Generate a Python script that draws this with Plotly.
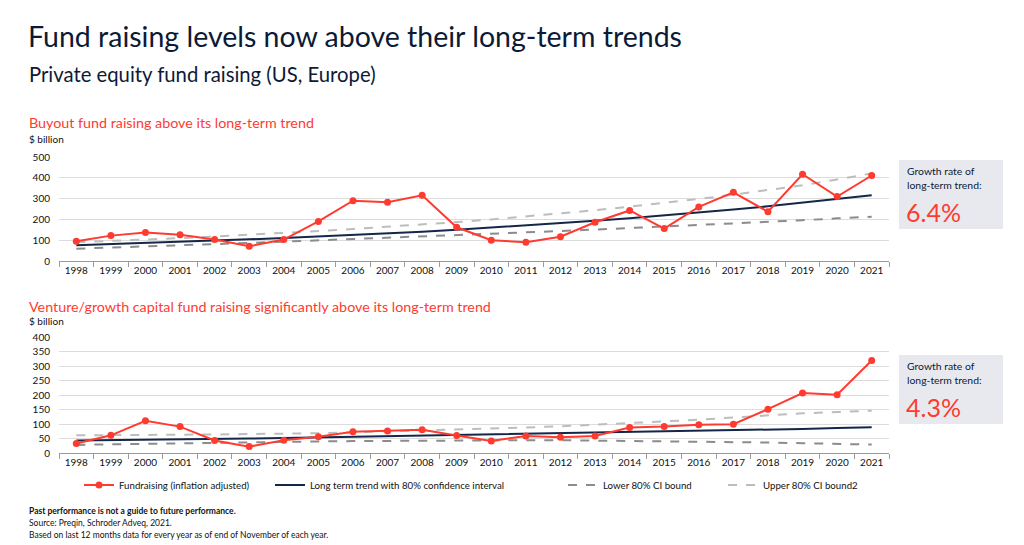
import plotly.graph_objects as go

years = [str(y) for y in range(1998, 2022)]

# Buyout fund raising ($ billion)
buyout = [95, 122, 137, 126, 103, 71, 103, 190, 290, 283, 316, 162, 100, 90, 117, 186,
          243, 156, 260, 330, 237, 417, 310, 411]
buyout_trend = [76, 81, 86, 92, 97, 104, 110, 117, 125, 133, 141, 150, 160, 170, 181, 193,
                205, 218, 232, 247, 263, 280, 298, 316]
buyout_lower = [59, 64, 70, 75, 81, 87, 93, 99, 105, 111, 117, 123, 130, 137, 144, 151,
                158, 165, 172, 180, 188, 196, 205, 213]
buyout_upper = [90, 96, 103, 110, 118, 126, 134, 144, 154, 164, 175, 187, 200, 214, 229, 244,
                261, 279, 298, 319, 341, 364, 392, 421]

# Venture/growth capital fund raising ($ billion)
venture = [33, 61, 111, 91, 43, 22, 44, 56, 73, 76, 80, 60, 41, 59, 54, 59,
           88, 91, 97, 99, 151, 207, 201, 319]
venture_trend = [43, 44, 46, 47, 49, 50, 52, 54, 55, 57, 59, 61, 63, 65, 67, 69,
                 71, 73, 76, 78, 81, 83, 86, 89]
venture_lower = [28, 30, 32, 33, 35, 37, 38, 40, 41, 42, 43, 44, 44, 44, 44, 43,
                 42, 41, 40, 38, 36, 34, 31, 29]
venture_upper = [61, 61, 62, 63, 64, 65, 66, 68, 71, 74, 77, 80, 84, 88, 92, 97,
                 103, 109, 115, 122, 129, 137, 141, 146]

growth_buyout = "6.4%"
growth_venture = "4.3%"

RED = "#ff3b30"
NAVY = "#14264a"
DARKGREY = "#8c8c8c"
LIGHTGREY = "#bdbdbd"
FONT = "Lato"
H = 545.0
W = 1024.0
OFF = 8.0  # page body margin


def py(p):
    return 1 - (p - OFF) / H


def px_(x):
    return (x - OFF) / W


fig = go.Figure()

series_sets = [
    (buyout, buyout_trend, buyout_lower, buyout_upper, "x", "y", True),
    (venture, venture_trend, venture_lower, venture_upper, "x2", "y2", False),
]
for vals, trend, lower, upper, xa, ya, show in series_sets:
    fig.add_trace(go.Scatter(x=years, y=lower, mode="lines", name="Lower 80% CI bound",
                             line=dict(color=DARKGREY, width=2, dash="dash"),
                             xaxis=xa, yaxis=ya, showlegend=show, legend="legend3"))
    fig.add_trace(go.Scatter(x=years, y=upper, mode="lines", name="Upper 80% CI bound2",
                             line=dict(color=LIGHTGREY, width=2, dash="dash"),
                             xaxis=xa, yaxis=ya, showlegend=show, legend="legend4"))
    fig.add_trace(go.Scatter(x=years, y=trend, mode="lines",
                             name="Long term trend with 80% confidence interval",
                             line=dict(color=NAVY, width=2),
                             xaxis=xa, yaxis=ya, showlegend=show, legend="legend2"))
    fig.add_trace(go.Scatter(x=years, y=vals, mode="lines+markers",
                             name="Fundraising (inflation adjusted)",
                             line=dict(color=RED, width=2),
                             marker=dict(color=RED, size=7),
                             xaxis=xa, yaxis=ya, showlegend=show, legend="legend"))

xdom = [px_(59), px_(889)]
xaxis_common = dict(type="category", range=[-0.5, 23.5], domain=xdom, automargin=False,
                    showgrid=False, showline=True, linecolor="#9a9a9a", linewidth=1,
                    ticks="outside", tickson="boundaries", ticklen=5, tickcolor="#9a9a9a",
                    tickfont=dict(family=FONT, size=10, color="#111111"), fixedrange=True)
yaxis_common = dict(showgrid=True, gridcolor="#dcdcdc", gridwidth=1, zeroline=False,
                    showline=False, ticks="", ticklabelstandoff=8, automargin=False,
                    tickfont=dict(family=FONT, size=10, color="#111111"), fixedrange=True)

fig.update_layout(
    width=1024, height=545,
    margin=dict(l=0, r=0, t=0, b=0, autoexpand=False),
    paper_bgcolor="white", plot_bgcolor="white",
    font=dict(family=FONT, color=NAVY),
    xaxis=dict(**xaxis_common, anchor="y"),
    yaxis=dict(**yaxis_common, domain=[py(261), py(157)], range=[0, 500], dtick=100, anchor="x"),
    xaxis2=dict(**xaxis_common, anchor="y2"),
    yaxis2=dict(**yaxis_common, domain=[py(453), py(337)], range=[0, 400], dtick=50, anchor="x2"),
)

legend_font = dict(family=FONT, size=9.7, color="#111111")
leg_pos = {"legend": 79, "legend2": 270, "legend3": 563, "legend4": 723}
for key, xpos in leg_pos.items():
    fig.update_layout({key: dict(x=px_(xpos), y=py(485), xanchor="left", yanchor="middle",
                                 orientation="h", font=legend_font, bgcolor="rgba(0,0,0,0)",
                                 itemwidth=30, tracegroupgap=0)})

annotations = [
    dict(text="Fund raising levels now above their long-term trends", x=px_(26), y=py(36),
         font=dict(family=FONT, size=28.5, color="#0c1a36")),
    dict(text="Private equity fund raising (US, Europe)", x=px_(27), y=py(74),
         font=dict(family=FONT, size=20.3, color="#0c1a36")),
    dict(text="Buyout fund raising above its long-term trend", x=px_(27), y=py(122),
         font=dict(family=FONT, size=14.3, color=RED)),
    dict(text="$ billion", x=px_(27), y=py(139), font=dict(family=FONT, size=10, color="#111111")),
    dict(text="Venture/growth capital fund raising significantly above its long-term trend",
         x=px_(27), y=py(306), font=dict(family=FONT, size=14.3, color=RED)),
    dict(text="$ billion", x=px_(27), y=py(321), font=dict(family=FONT, size=10, color="#111111")),
    dict(text="<b>Past performance is not a guide to future performance.</b>", x=px_(27), y=py(511),
         font=dict(family=FONT, size=8.5, color="#111111")),
    dict(text="Source: Preqin, Schroder Adveq, 2021.", x=px_(27), y=py(523),
         font=dict(family=FONT, size=8.5, color="#111111")),
    dict(text="Based on last 12 months data for every year as of end of November of each year.",
         x=px_(27), y=py(535), font=dict(family=FONT, size=8.5, color="#111111")),
]

shapes = []
for top, bottom, rate in [(160, 229, growth_buyout), (355, 424, growth_venture)]:
    shapes.append(dict(type="rect", xref="paper", yref="paper", x0=px_(899), x1=px_(1003),
                       y0=py(bottom), y1=py(top), fillcolor="#e7e9ee", line=dict(width=0),
                       layer="below"))
    annotations.append(dict(text="Growth rate of", x=px_(905), y=py(top + 11),
                            font=dict(family=FONT, size=10.4, color="#0c1a36")))
    annotations.append(dict(text="long-term trend:", x=px_(905), y=py(top + 25),
                            font=dict(family=FONT, size=10.4, color="#0c1a36")))
    annotations.append(dict(text=rate, x=px_(904), y=py(top + 52),
                            font=dict(family=FONT, size=25, color=RED)))

for a in annotations:
    a.update(xref="paper", yref="paper", xanchor="left", yanchor="middle", showarrow=False)

fig.update_layout(annotations=annotations, shapes=shapes)

fig.write_html("out.html")
